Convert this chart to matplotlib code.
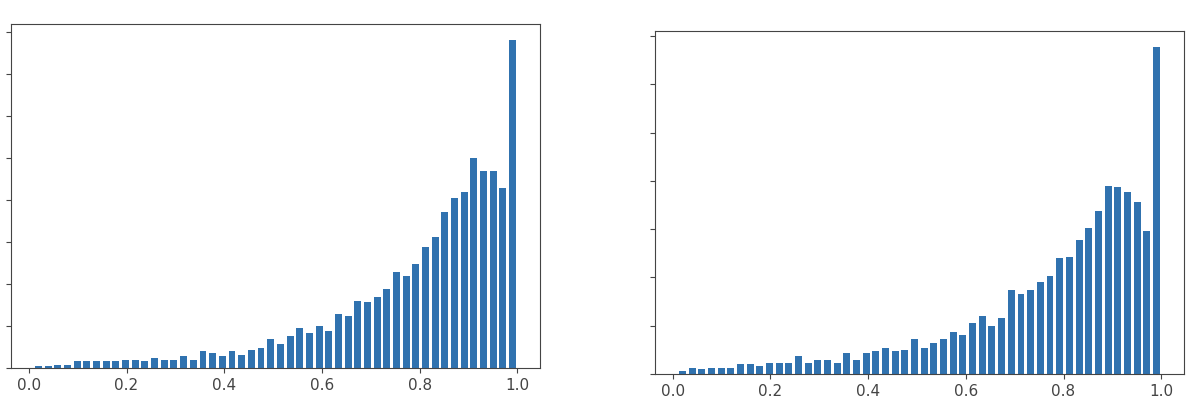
import numpy as np
import matplotlib
matplotlib.use("Agg")
import matplotlib.pyplot as plt

# bin range (50 bins)
bin_lo, bin_hi, n_bins = 0.01, 1.0, 50

left_counts = [1, 1, 2, 2, 4, 4, 4, 4, 4, 5,
               5, 4, 6, 5, 5, 7, 5, 10, 9, 7,
               10, 8, 11, 12, 17, 14, 19, 24, 21, 25,
               22, 32, 31, 40, 39, 42, 47, 57, 55, 62,
               72, 78, 93, 101, 105, 125, 117, 117, 107, 195]

right_counts = [2, 4, 3, 4, 4, 4, 6, 6, 5, 7,
                7, 7, 11, 7, 9, 9, 7, 13, 9, 13,
                14, 16, 14, 15, 22, 16, 19, 22, 26, 24,
                32, 36, 30, 35, 52, 50, 52, 57, 61, 72,
                73, 83, 91, 101, 117, 116, 113, 107, 89, 203]

xticks = [0.0, 0.2, 0.4, 0.6, 0.8, 1.0]
left_yticks = np.arange(0, 201, 25)
right_yticks = np.arange(0, 211, 30)

edges = np.linspace(bin_lo, bin_hi, n_bins + 1)
centers = (edges[:-1] + edges[1:]) / 2

fig = plt.figure(figsize=(12, 4.13), dpi=100)
ax1 = fig.add_axes([0.0092, 0.109, 0.4408, 0.833])
ax2 = fig.add_axes([0.5458, 0.0944, 0.4408, 0.8305])

bar_color = '#3072af'
edge_color = '#444444'

for ax, counts, yt in [(ax1, left_counts, left_yticks), (ax2, right_counts, right_yticks)]:
    ax.hist(centers, bins=edges, weights=counts, color=bar_color, rwidth=0.72)
    ax.set_xticks(xticks)
    ax.set_xticklabels(['%.1f' % t for t in xticks])
    ax.set_yticks(yt)
    ax.tick_params(axis='y', labelleft=False, color=edge_color)
    ax.tick_params(axis='x', labelsize=11, colors=edge_color)
    for s in ax.spines.values():
        s.set_color(edge_color)

fig.savefig("out.png", dpi=100)
